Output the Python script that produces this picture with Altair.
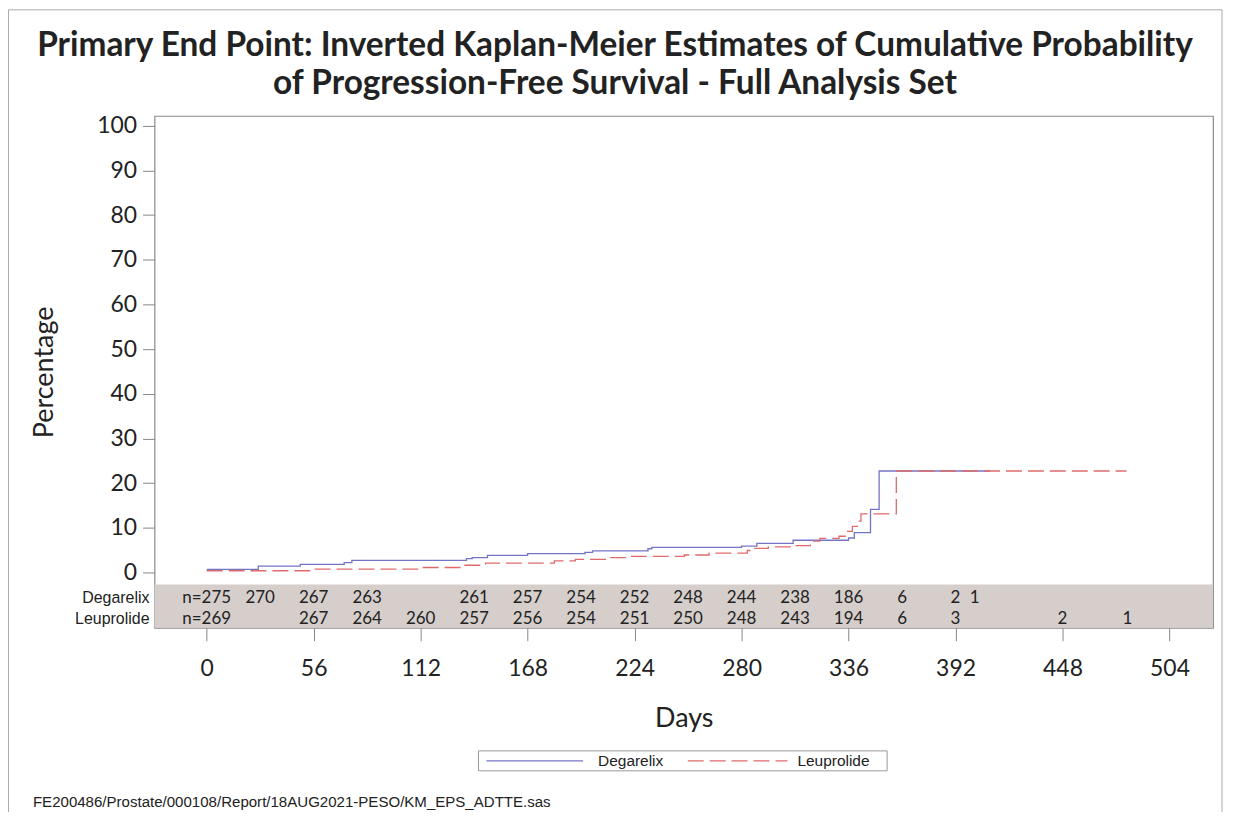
import altair as alt
import pandas as pd

title_lines = ["Primary End Point: Inverted Kaplan-Meier Estimates of Cumulative Probability",
               "of Progression-Free Survival - Full Analysis Set"]
groups = ["Degarelix", "Leuprolide"]

deg_days = [0, 27, 49, 72, 76, 136, 139, 147, 168, 198, 202, 231, 233, 280, 288, 307, 336, 339, 347.5, 352, 410]
deg_pct = [0.67, 1.4, 1.8, 2.2, 2.7, 3.1, 3.3, 3.8, 4.2, 4.5, 4.8, 5.3, 5.6, 5.9, 6.5, 7.2, 7.7, 8.9, 14.1, 22.7, 22.7]

leu_days = [0, 56, 112, 134, 146, 182, 193, 210, 220, 250, 263, 283, 287, 294, 307, 316, 321, 331, 335, 338,
            341, 342.5, 361, 481.5]
leu_pct = [0.37, 0.74, 1.1, 1.6, 2.1, 2.6, 2.9, 3.3, 3.6, 3.9, 4.3, 4.9, 5.4, 5.7, 6.0, 7.0, 7.6, 8.1, 9.2, 10.3,
           11.5, 13.1, 22.7, 22.7]

deg_risk_days = [0, 28, 56, 84, 140, 168, 196, 224, 252, 280, 308, 336, 364, 392, 402]
deg_risk = ["n=275", "270", "267", "263", "261", "257", "254", "252", "248", "244", "238", "186", "6", "2", "1"]
leu_risk_days = [0, 56, 84, 112, 140, 168, 196, 224, 252, 280, 308, 336, 364, 392, 448, 482]
leu_risk = ["n=269", "267", "264", "260", "257", "256", "254", "251", "250", "248", "243", "194", "6", "3", "2", "1"]

risk_row_y = [-5.7, -10.4]
band_top = -2.7
x_ticks = [0, 56, 112, 168, 224, 280, 336, 392, 448, 504]
y_ticks = [0, 10, 20, 30, 40, 50, 60, 70, 80, 90, 100]
x_domain = [-27.3, 526.8]
y_domain = [-12.4, 102.2]
footnote = "FE200486/Prostate/000108/Report/18AUG2021-PESO/KM_EPS_ADTTE.sas"

COLORS = ["#7474c4", "#e06a6a"]
DASHES = [[1, 0], [16, 6]]
W, H = 1062, 513.5

curves = pd.DataFrame({
    "day": deg_days + leu_days,
    "pct": deg_pct + leu_pct,
    "group": [groups[0]] * len(deg_days) + [groups[1]] * len(leu_days),
})
risk = pd.DataFrame({
    "day": deg_risk_days + leu_risk_days,
    "n": deg_risk + leu_risk,
    "row": [risk_row_y[0]] * len(deg_risk) + [risk_row_y[1]] * len(leu_risk),
})
rows = pd.DataFrame({"label": groups, "row": risk_row_y})
band = pd.DataFrame({"top": [band_top], "bottom": [y_domain[0]]})
one = pd.DataFrame({"t": [footnote]})

xs = alt.Scale(domain=x_domain, nice=False, zero=False)
ys = alt.Scale(domain=y_domain, nice=False, zero=False)

band_layer = alt.Chart(band).mark_rect(color="#d5cecb").encode(
    x=alt.value(0), x2=alt.value(W),
    y=alt.Y("top:Q", scale=ys), y2="bottom:Q")

lines = alt.Chart(curves).mark_line(interpolate="step-after", strokeWidth=1.3).encode(
    x=alt.X("day:Q", scale=xs,
            axis=alt.Axis(values=x_ticks, title="Days", grid=False, domain=False,
                          tickSize=13, tickColor="#888", labelPadding=17,
                          labelFont="Lato", labelFontSize=23, labelColor="#222",
                          titleFont="Lato", titleFontSize=27, titleFontWeight="normal",
                          titleColor="#222", titlePadding=25)),
    y=alt.Y("pct:Q", scale=ys,
            axis=alt.Axis(values=y_ticks, title="Percentage", grid=False, domain=False,
                          tickSize=12, tickColor="#888", labelPadding=6,
                          labelFont="Lato", labelFontSize=23, labelColor="#222",
                          titleFont="Lato", titleFontSize=27, titleFontWeight="normal",
                          titleColor="#222", titlePadding=38)),
    color=alt.Color("group:N", scale=alt.Scale(domain=groups, range=COLORS), legend=None),
    strokeDash=alt.StrokeDash("group:N", scale=alt.Scale(domain=groups, range=DASHES), legend=None),
    detail="group:N",
)

risk_text = alt.Chart(risk).mark_text(font="Lato", fontSize=17, color="#222", baseline="middle").encode(
    x=alt.X("day:Q", scale=xs), y=alt.Y("row:Q", scale=ys), text="n:N")

row_text = alt.Chart(rows).mark_text(font="Liberation Sans", fontSize=16, color="#222",
                                     align="right", baseline="middle").encode(
    x=alt.value(-5), y=alt.Y("row:Q", scale=ys), text="label:N")

foot = alt.Chart(one).mark_text(font="Liberation Sans", fontSize=15.1, color="#222",
                                align="left", baseline="middle").encode(
    x=alt.value(-122), y=alt.value(688), text="t:N")

title1 = alt.Chart(pd.DataFrame({"t": [title_lines[0]]})).mark_text(
    font="Lato", fontSize=33.5, fontWeight="bold", color="#222", align="center", baseline="middle").encode(
    x=alt.value(462), y=alt.value(-70), text="t:N")
title2 = alt.Chart(pd.DataFrame({"t": [title_lines[1]]})).mark_text(
    font="Lato", fontSize=33.5, fontWeight="bold", color="#222", align="center", baseline="middle").encode(
    x=alt.value(462), y=alt.value(-32), text="t:N")

# manual legend box
leg_box = alt.Chart(one).mark_rect(fill="white", stroke="#999", strokeWidth=1).encode(
    x=alt.value(325), x2=alt.value(735), y=alt.value(637), y2=alt.value(657))
leg_l1 = alt.Chart(one).mark_rule(color=COLORS[0], strokeWidth=1.3, strokeDash=DASHES[0]).encode(
    x=alt.value(333), x2=alt.value(430), y=alt.value(647))
leg_t1 = alt.Chart(pd.DataFrame({"t": [groups[0]]})).mark_text(
    font="Liberation Sans", fontSize=15.5, color="#222", align="left", baseline="middle").encode(
    x=alt.value(445), y=alt.value(647), text="t:N")
leg_l2 = alt.Chart(one).mark_rule(color=COLORS[1], strokeWidth=1.3, strokeDash=DASHES[1]).encode(
    x=alt.value(535), x2=alt.value(635), y=alt.value(647))
leg_t2 = alt.Chart(pd.DataFrame({"t": [groups[1]]})).mark_text(
    font="Liberation Sans", fontSize=15.5, color="#222", align="left", baseline="middle").encode(
    x=alt.value(645), y=alt.value(647), text="t:N")

border = alt.Chart(one).mark_rect(fill=None, stroke="#aaa", strokeWidth=1).encode(
    x=alt.value(-146.5), x2=alt.value(1071), y=alt.value(-106.5), y2=alt.value(800))

chart = alt.layer(band_layer, lines, risk_text, row_text, foot, title1, title2,
                  leg_box, leg_l1, leg_t1, leg_l2, leg_t2, border).properties(
    width=W, height=H,
    autosize=alt.AutoSizeParams(type="none"),
    padding={"left": 147, "top": 107, "right": 12, "bottom": 183},
).configure_view(stroke="#8a8a8a", strokeWidth=1.2).resolve_scale(x="shared", y="shared")

chart.save("out.html", embed_options={"renderer": "svg", "actions": False})
